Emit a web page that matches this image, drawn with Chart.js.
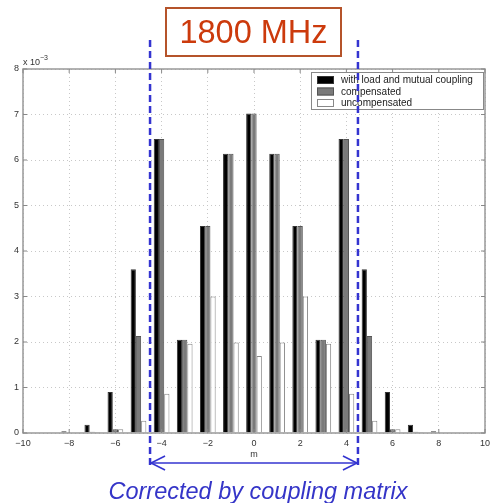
<!DOCTYPE html>
<html>
<head>
<meta charset="utf-8">
<script src="https://cdn.jsdelivr.net/npm/chart.js@4.4.1/dist/chart.umd.min.js"></script>
<style>
  html, body { margin: 0; padding: 0; background: #fff; }
  #wrap { position: relative; width: 490px; height: 503px; overflow: hidden; font-family: "Liberation Sans", Arial, sans-serif; }
  #wrap canvas { position: absolute; left: 0; top: 0; }
  .freq { position: absolute; left: 165px; top: 7px; width: 173px; height: 46px; border: 2px solid #b5532a;
          color: #cc3a0c; font-size: 32.5px; line-height: 46px; text-align: center; }
  .caption { position: absolute; left: 0; top: 479px; width: 516px; text-align: center; color: #3535c8;
             font-size: 23.5px; line-height: 24px; font-style: italic; white-space: nowrap; }
  .xlabel { position: absolute; left: 248px; top: 449px; width: 12px; text-align: center; font-size: 9px; color: #333; }
  .exp { position: absolute; left: 23px; top: 55px; font-size: 9px; color: #333; white-space: nowrap; }
  .exp sup { font-size: 7px; position: relative; top: -1px; }
</style>
</head>
<body>
<div id="wrap">
  <canvas id="chart" width="490" height="503"></canvas>
  <div class="freq">1800 MHz</div>
  <div class="exp">x 10<sup>−3</sup></div>
  <div class="xlabel">m</div>
  <div class="caption">Corrected by coupling matrix</div>
</div>
<script>
// mode index m and coefficient magnitudes (x 10^-3)
const mValues = [-9, -8, -7, -6, -5, -4, -3, -2, -1, 0, 1, 2, 3, 4, 5, 6, 7, 8, 9];
const withCoupling = [0.01, 0.04, 0.18, 0.9, 3.6, 6.46, 2.05, 4.55, 6.14, 7.02, 6.14, 4.55, 2.05, 6.46, 3.6, 0.9, 0.18, 0.04, 0.01];
const compensated = [0.01, 0.01, 0.03, 0.08, 2.13, 6.46, 2.05, 4.55, 6.14, 7.02, 6.14, 4.55, 2.05, 6.46, 2.13, 0.08, 0.03, 0.01, 0.01];
const uncompensated = [0.01, 0.01, 0.02, 0.08, 0.27, 0.86, 1.96, 3.0, 1.99, 1.69, 1.99, 3.0, 1.96, 0.86, 0.27, 0.08, 0.02, 0.01, 0.01];
const seriesNames = ['with load and mutual coupling', 'compensated', 'uncompensated'];
const xTickValues = [-10, -8, -6, -4, -2, 0, 2, 4, 6, 8, 10];
const yTickValues = [0, 1, 2, 3, 4, 5, 6, 7, 8];
const bandEdges = [-4.5, 4.5];

const fontFamily = '"Liberation Sans", Arial, sans-serif';

function line(ctx, x1, y1, x2, y2) {
  ctx.beginPath(); ctx.moveTo(x1, y1); ctx.lineTo(x2, y2); ctx.stroke();
}

const overlay = {
  id: 'overlay',
  afterDatasetsDraw(chart) {
    const { ctx, chartArea: a, scales: { x, y } } = chart;
    ctx.save();

    // matlab style box with inward ticks
    ctx.strokeStyle = '#999';
    ctx.lineWidth = 1.5;
    ctx.strokeRect(a.left, a.top, a.right - a.left, a.bottom - a.top);
    ctx.lineWidth = 1;
    ctx.strokeStyle = '#888';
    x.ticks.forEach(t => {
      const px = x.getPixelForValue(t.value);
      line(ctx, px, a.top, px, a.top + 4);
      line(ctx, px, a.bottom, px, a.bottom - 4);
    });
    y.ticks.forEach(t => {
      const py = y.getPixelForValue(t.value);
      line(ctx, a.left, py, a.left + 4, py);
      line(ctx, a.right, py, a.right - 4, py);
    });

    // legend
    const lx = a.right - 174, ly = a.top + 3;
    ctx.fillStyle = '#fff';
    ctx.fillRect(lx, ly, 173, 38);
    ctx.strokeStyle = '#888';
    ctx.strokeRect(lx + 0.5, ly + 0.5, 172, 37);
    ctx.font = '10px ' + fontFamily;
    ctx.textBaseline = 'middle';
    chart.data.datasets.forEach((ds, i) => {
      const ry = ly + 8 + i * 11.5;
      ctx.fillStyle = ds.backgroundColor;
      ctx.fillRect(lx + 6, ry - 4, 17, 8);
      ctx.strokeStyle = ds.borderColor;
      ctx.strokeRect(lx + 6.5, ry - 3.5, 16, 7);
      ctx.fillStyle = '#222';
      ctx.fillText(ds.label, lx + 30, ry + 0.5);
    });

    // corrected band: dashed edges and double arrow
    ctx.strokeStyle = '#3434d0';
    ctx.lineWidth = 2.5;
    ctx.setLineDash([7, 4]);
    const edges = bandEdges.map(v => x.getPixelForValue(v));
    edges.forEach(px => line(ctx, px, a.top - 29, px, a.bottom + 34));
    ctx.setLineDash([]);
    ctx.lineWidth = 1.6;
    const ay = a.bottom + 30;
    line(ctx, edges[0] + 1, ay, edges[1] - 1, ay);
    ctx.beginPath();
    ctx.moveTo(edges[0] + 15, ay - 7); ctx.lineTo(edges[0] + 1, ay); ctx.lineTo(edges[0] + 15, ay + 7);
    ctx.moveTo(edges[1] - 15, ay - 7); ctx.lineTo(edges[1] - 1, ay); ctx.lineTo(edges[1] - 15, ay + 7);
    ctx.stroke();
    ctx.restore();
  }
};

const tickFont = { size: 9, family: fontFamily };

new Chart(document.getElementById('chart'), {
  type: 'bar',
  data: {
    labels: mValues,
    datasets: [
      { label: seriesNames[0], data: withCoupling, backgroundColor: '#000', borderColor: '#333', borderWidth: 1 },
      { label: seriesNames[1], data: compensated, backgroundColor: '#7a7a7a', borderColor: '#555', borderWidth: 1 },
      { label: seriesNames[2], data: uncompensated, backgroundColor: '#fff', borderColor: '#888', borderWidth: 1 }
    ]
  },
  options: {
    responsive: false,
    animation: false,
    categoryPercentage: 0.68,
    barPercentage: 1,
    layout: { padding: { top: 69, right: 5, left: 0, bottom: 0 } },
    plugins: { legend: { display: false }, tooltip: { enabled: false } },
    scales: {
      x: {
        type: 'linear', min: -10, max: 10, offset: false,
        afterBuildTicks: s => { s.ticks = xTickValues.map(v => ({ value: v })); },
        afterFit: s => { s.height = 70; s.paddingRight = 0; s.paddingLeft = 0; },
        grid: { color: '#c8c8c8', drawTicks: false, offset: false },
        border: { display: false, dash: [1, 3] },
        ticks: { color: '#333', font: tickFont, padding: 5, maxRotation: 0,
                 callback: v => String(v).replace('-', '\u2212') }
      },
      y: {
        min: 0, max: 8,
        afterBuildTicks: s => { s.ticks = yTickValues.map(v => ({ value: v })); },
        afterFit: s => { s.width = 23; s.paddingTop = 0; s.paddingBottom = 0; },
        grid: { color: '#c8c8c8', drawTicks: false },
        border: { display: false, dash: [1, 3] },
        ticks: { color: '#333', font: tickFont, padding: 4 }
      }
    }
  },
  plugins: [overlay]
});
</script>
</body>
</html>
